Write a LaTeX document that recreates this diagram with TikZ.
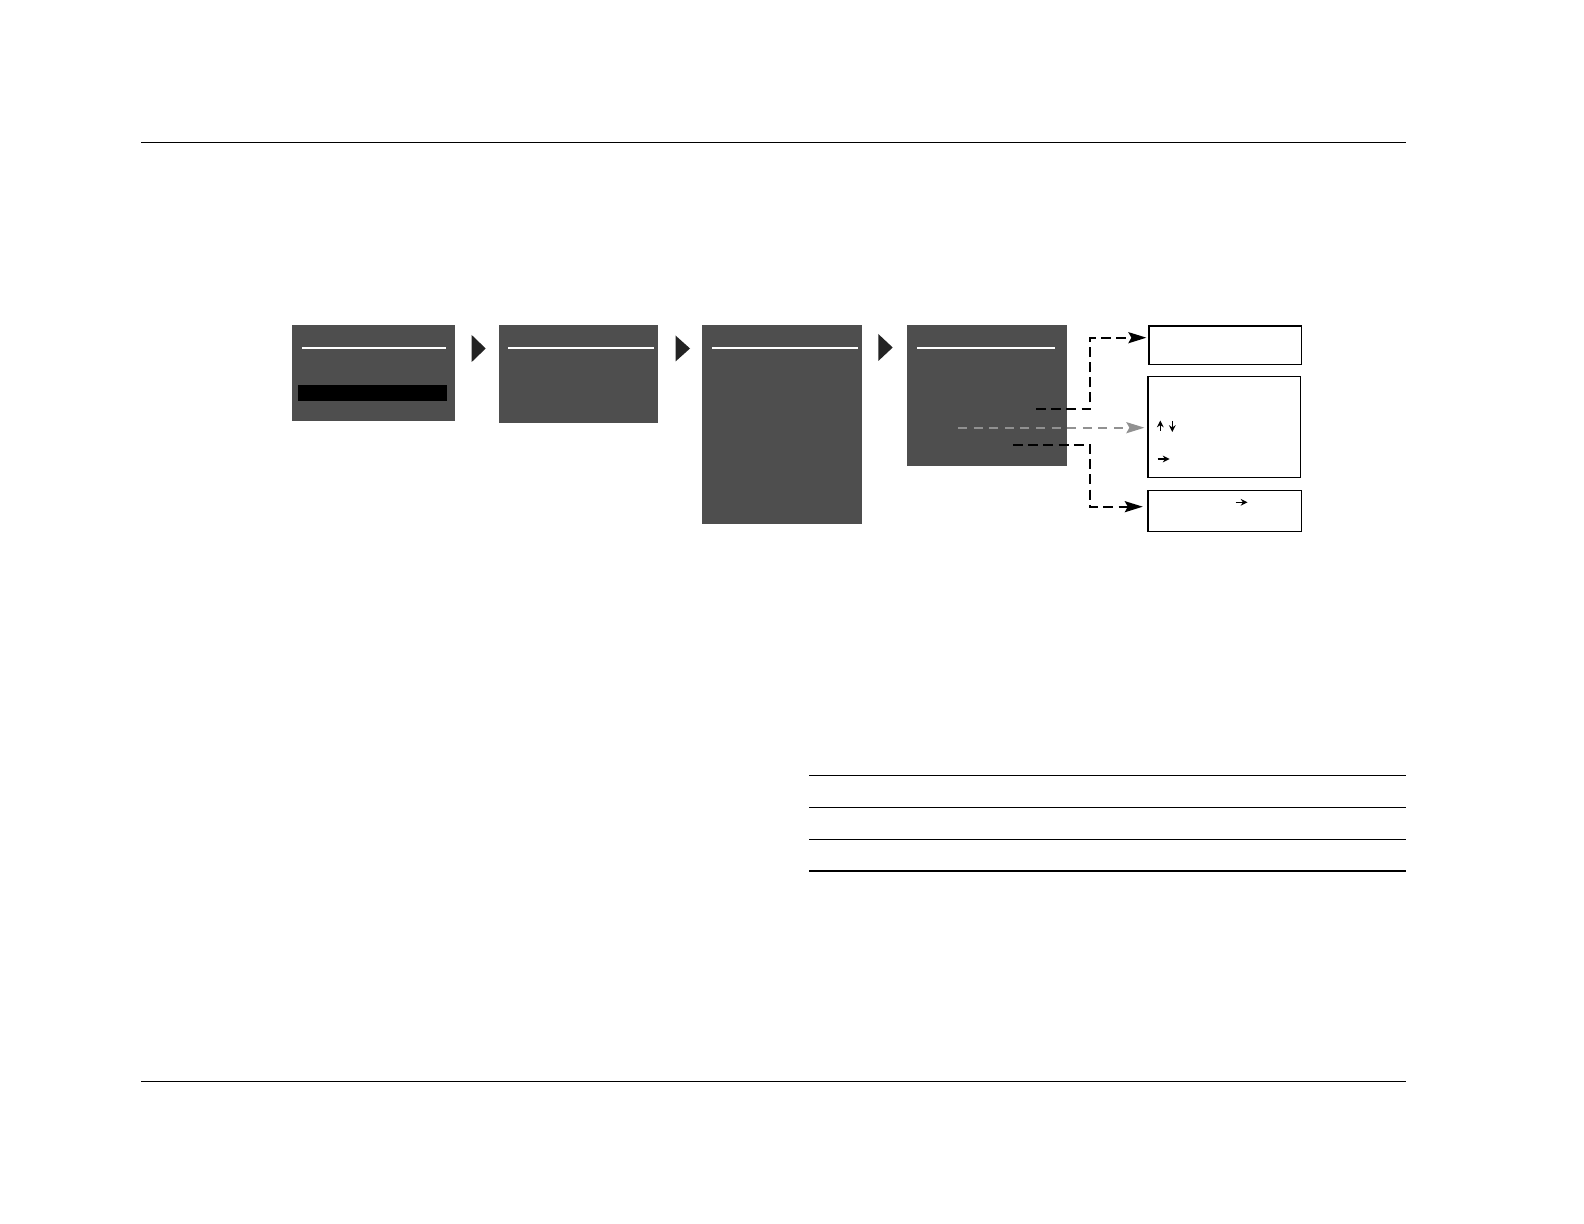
\documentclass[tikz,border=0pt]{standalone}
\usetikzlibrary{arrows.meta}
\definecolor{scr}{RGB}{78,78,78}
\definecolor{tri}{RGB}{35,35,35}
\definecolor{gdash}{RGB}{145,145,145}
\tikzset{
  screen/.style={rectangle, fill=scr, draw=none, inner sep=0pt},
  infobox/.style={rectangle, fill=white, draw=black, line width=0.6pt, inner sep=0pt},
  rule/.style={line width=0.6pt, black},
  titlebar/.style={white, line width=1pt},
  flowtri/.style={fill=tri, draw=none},
  linkdash/.style={line width=1.05pt, dash pattern=on 5pt off 2.6pt, -{Stealth[length=9pt,width=5.5pt,inset=1.5pt]}},
  graydash/.style={gdash, line width=1.05pt, dash pattern=on 4.5pt off 3.3pt, -{Stealth[length=9pt,width=5.5pt,inset=1.5pt]}},
  keyarrow/.style={line width=0.65pt, -{Stealth[length=3.4pt,width=3.4pt]}}
}
\begin{document}
\begin{tikzpicture}[x=0.5pt,y=-0.5pt]
\useasboundingbox[fill=white] (0,0) rectangle (1584,1224);
% page rules
\draw[rule] (141,142.3) -- (1406,142.3);
\draw[rule] (141,1081.5) -- (1406,1081.5);
% table rules
\draw[rule] (809,775.5) -- (1406,775.5);
\draw[rule] (809,807.5) -- (1406,807.5);
\draw[rule] (809,839.5) -- (1406,839.5);
\draw[rule] (809,871) -- (1406,871);
% screens
\node[screen, minimum width=81.5pt, minimum height=48.25pt] (s1) at (373.5,373.25) {};
\node[screen, minimum width=79.25pt, minimum height=48.85pt] (s2) at (578.25,373.85) {};
\node[screen, minimum width=80pt, minimum height=99.5pt] (s3) at (782,424.5) {};
\node[screen, minimum width=80pt, minimum height=70.35pt] (s4) at (987,395.35) {};
% title bars
\draw[titlebar] (302,347.7) -- (446,347.7);
\draw[titlebar] (508,347.7) -- (654,347.7);
\draw[titlebar] (712,347.7) -- (858,347.7);
\draw[titlebar] (917,347.7) -- (1055,347.7);
% highlight bar
\fill[black] (298,385) rectangle (446.7,400.7);
% flow triangles
\fill[flowtri] (471.7,335) -- (485.7,348.5) -- (471.7,362) -- cycle;
\fill[flowtri] (675.5,335.5) -- (690,348.5) -- (675.5,361.5) -- cycle;
\fill[flowtri] (878.3,334) -- (892.7,347.5) -- (878.3,361) -- cycle;
% info boxes
\node[infobox, minimum width=76.35pt, minimum height=19.15pt] (bA) at (1225.35,345.15) {};
\node[infobox, minimum width=76.35pt, minimum height=50.5pt] (bB) at (1224.35,426.8) {};
\node[infobox, minimum width=76.85pt, minimum height=20.5pt] (bC) at (1224.85,510.8) {};
% key arrows
\coordinate (up0) at (1160.3,431);
\coordinate (up1) at (1160.3,420.5);
\coordinate (dn0) at (1172.3,421);
\coordinate (dn1) at (1172.3,432);
\coordinate (rb0) at (1157.5,459);
\coordinate (rb1) at (1169.5,459);
\coordinate (rc0) at (1235.5,502.3);
\coordinate (rc1) at (1247.5,502.3);
\draw[keyarrow] (up0) -- (up1);
\draw[keyarrow] (dn0) -- (dn1);
\draw[keyarrow] (rb0) -- (rb1);
\draw[keyarrow] (rc0) -- (rc1);
% connectors
\coordinate (c1) at (1036,409.3);
\coordinate (k1) at (1090,337.7);
\coordinate (c2) at (958,427.7);
\coordinate (c3) at (1013,445);
\coordinate (k3) at (1090,506.7);
\draw[linkdash, shorten >=1pt] (c1) -| (k1) -- (k1 -| bA.west);
\draw[graydash, shorten >=1.5pt] (c2) -- (c2 -| bB.west);
\draw[linkdash, shorten >=2.3pt] (c3) -| (k3) -- (k3 -| bC.west);
\end{tikzpicture}
\end{document}
